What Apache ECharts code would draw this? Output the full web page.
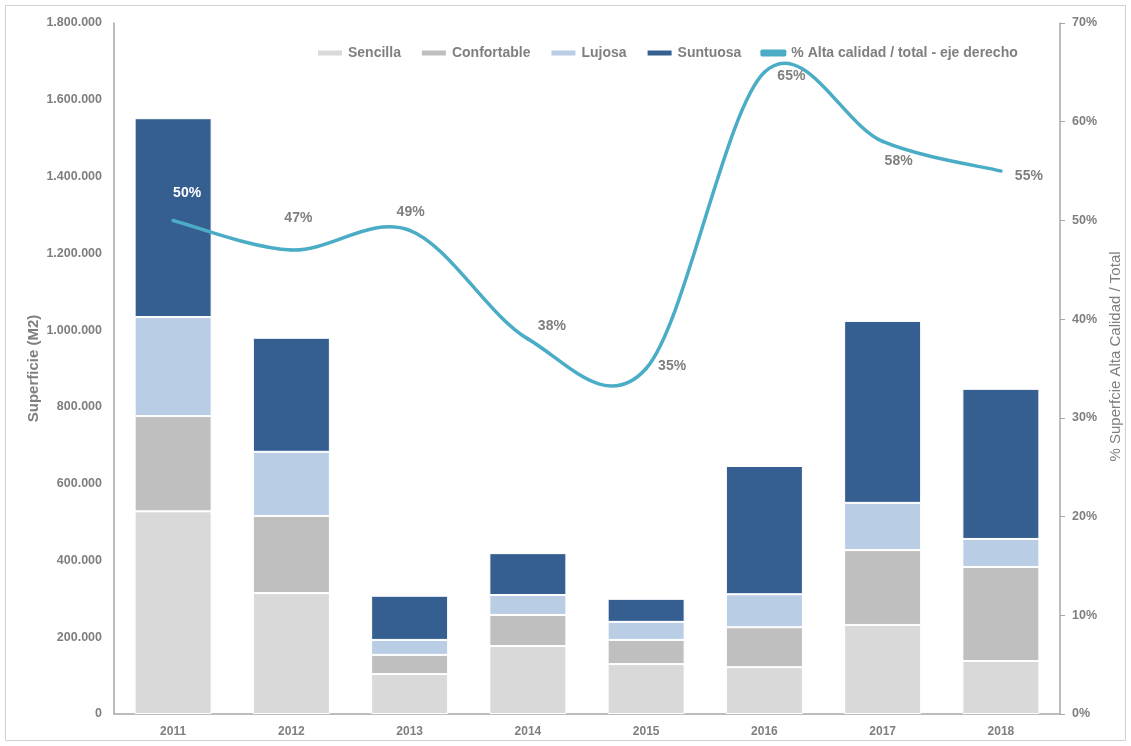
<!DOCTYPE html>
<html>
<head>
<meta charset="utf-8">
<title>Superficie por calidad</title>
<script src="https://cdn.jsdelivr.net/npm/echarts@6/dist/echarts.min.js"></script>
<style>
  html, body { margin: 0; padding: 0; background: #ffffff; }
  #chart { width: 1131px; height: 746px; }
</style>
</head>
<body>
<div id="chart"></div>
<script>
// Years on the category axis
const years = ['2011', '2012', '2013', '2014', '2015', '2016', '2017', '2018'];

// Surface (m2) by quality level
const sencilla    = [528000, 315000, 104000, 177000, 130000, 122000, 232000, 138000];
const confortable = [248000, 201000,  50000,  81000,  63000, 104000, 195000, 245000];
const lujosa      = [258000, 167000,  39000,  52000,  47000,  86000, 123000,  73000];
const suntuosa    = [518000, 297000, 115000, 109000,  60000, 334000, 474000, 391000];

// Share of high-quality surface over total (%), right axis
const pctAlta = [50, 47, 49, 38, 35, 65, 58, 55];

// Left axis ticks
const leftMax = 1800000;
const leftStep = 200000;

// Where each percentage label sits relative to its point
const labelOffsets = [[14, -27], [7, -32], [1, -18], [24, -13], [26, -2], [27, 4], [16, 20], [28, 5]];

const FONT = "'Liberation Sans', Arial, Helvetica, sans-serif";
const GREY = '#7f7f7f';
const LINE_COLOR = '#4bacc6';
const LINE_NAME = '% Alta calidad / total - eje derecho';

function thousands(v) {
  return String(v).replace(/\B(?=(\d{3})+(?!\d))/g, '.');
}

const chart = echarts.init(document.getElementById('chart'), null, { renderer: 'canvas' });

function barSeries(name, data, color) {
  return {
    name: name,
    type: 'bar',
    stack: 'superficie',
    data: data,
    barWidth: 77,
    itemStyle: { color: color, borderColor: '#ffffff', borderWidth: 1 },
    emphasis: { disabled: true }
  };
}

// Catmull-Rom style curve through the percentage points (spreadsheet-like smoothing)
function renderCurve(params, api) {
  if (params.dataIndex !== 0) return null;
  const pts = pctAlta.map((v, i) => api.coord([i, v]));
  const n = pts.length;
  const children = [];
  for (let i = 0; i < n - 1; i++) {
    const p0 = pts[Math.max(i - 1, 0)];
    const p1 = pts[i];
    const p2 = pts[i + 1];
    const p3 = pts[Math.min(i + 2, n - 1)];
    children.push({
      type: 'bezierCurve',
      shape: {
        x1: p1[0], y1: p1[1],
        x2: p2[0], y2: p2[1],
        cpx1: p1[0] + (p2[0] - p0[0]) / 6,
        cpy1: p1[1] + (p2[1] - p0[1]) / 6,
        cpx2: p2[0] - (p3[0] - p1[0]) / 6,
        cpy2: p2[1] - (p3[1] - p1[1]) / 6
      },
      style: { fill: null, stroke: LINE_COLOR, lineWidth: 3.5, lineCap: 'round' }
    });
  }
  return { type: 'group', children: children };
}

const option = {
  backgroundColor: '#ffffff',
  animation: false,
  textStyle: { fontFamily: FONT },
  graphic: [{
    type: 'rect',
    shape: { x: 5.5, y: 5.5, width: 1120, height: 735 },
    style: { fill: 'none', stroke: '#d0d0d0', lineWidth: 1 },
    silent: true
  }],
  legend: {
    left: 311,
    top: 41,
    itemWidth: 26,
    itemHeight: 7,
    itemGap: 19,
    textStyle: { color: GREY, fontSize: 14, fontWeight: 'bold', fontFamily: FONT },
    data: [
      { name: 'Sencilla', icon: 'rect' },
      { name: 'Confortable', icon: 'rect' },
      { name: 'Lujosa', icon: 'rect' },
      { name: 'Suntuosa', icon: 'rect' },
      { name: LINE_NAME, icon: 'roundRect' }
    ]
  },
  grid: { left: 114, right: 71, top: 23, bottom: 32 },
  xAxis: {
    type: 'category',
    data: years,
    axisLine: { lineStyle: { color: '#a6a6a6', width: 1.5 } },
    axisTick: { show: false },
    axisLabel: { color: GREY, fontSize: 12, fontWeight: 'bold', margin: 12, fontFamily: FONT },
    splitLine: { show: false }
  },
  yAxis: [{
    type: 'value',
    min: 0,
    max: leftMax,
    interval: leftStep,
    name: 'Superficie (M2)',
    nameLocation: 'middle',
    nameRotate: 90,
    nameGap: 73,
    nameMoveOverlap: false,
    nameTextStyle: { color: GREY, fontSize: 15, fontWeight: 'bold', fontFamily: FONT },
    axisLine: { show: true, lineStyle: { color: '#a6a6a6', width: 1.5 } },
    axisTick: { show: false },
    axisLabel: {
      color: GREY, fontSize: 12.5, fontWeight: 'bold', margin: 12, fontFamily: FONT,
      formatter: v => thousands(v)
    },
    splitLine: { show: false }
  }, {
    type: 'value',
    position: 'right',
    min: 0,
    max: 70,
    interval: 10,
    name: '% Superfcie Alta Calidad / Total',
    nameLocation: 'middle',
    nameRotate: 90,
    nameGap: 45,
    nameTextStyle: { color: GREY, fontSize: 15, fontFamily: FONT, padding: [0, 0, 0, 24] },
    axisLine: { show: true, lineStyle: { color: '#a6a6a6', width: 1.5 } },
    axisTick: { show: true, length: 5, lineStyle: { color: '#a6a6a6' } },
    axisLabel: {
      color: GREY, fontSize: 12.5, fontWeight: 'bold', margin: 12, fontFamily: FONT,
      formatter: '{value}%'
    },
    splitLine: { show: false }
  }],
  series: [
    barSeries('Sencilla', sencilla, '#d9d9d9'),
    barSeries('Confortable', confortable, '#bfbfbf'),
    barSeries('Lujosa', lujosa, '#b9cde5'),
    barSeries('Suntuosa', suntuosa, '#365f91'),
    {
      // point labels and legend entry for the percentage series
      name: LINE_NAME,
      type: 'line',
      yAxisIndex: 1,
      symbol: 'circle',
      symbolSize: 2,
      showSymbol: true,
      z: 6,
      itemStyle: { color: LINE_COLOR },
      lineStyle: { color: LINE_COLOR, width: 3.5, opacity: 0 },
      emphasis: { disabled: true },
      data: pctAlta.map((v, i) => ({
        value: v,
        label: {
          show: true,
          position: 'inside',
          offset: labelOffsets[i],
          color: i === 0 ? '#ffffff' : GREY,
          fontSize: 14,
          fontWeight: 'bold',
          fontFamily: FONT,
          formatter: p => p.value + '%'
        }
      }))
    },
    {
      // smoothed curve of the same percentages
      name: LINE_NAME,
      type: 'custom',
      yAxisIndex: 1,
      z: 5,
      silent: true,
      renderItem: renderCurve,
      encode: { x: 0, y: 1 },
      data: pctAlta.map((v, i) => [i, v])
    }
  ]
};

chart.setOption(option);
</script>
</body>
</html>
